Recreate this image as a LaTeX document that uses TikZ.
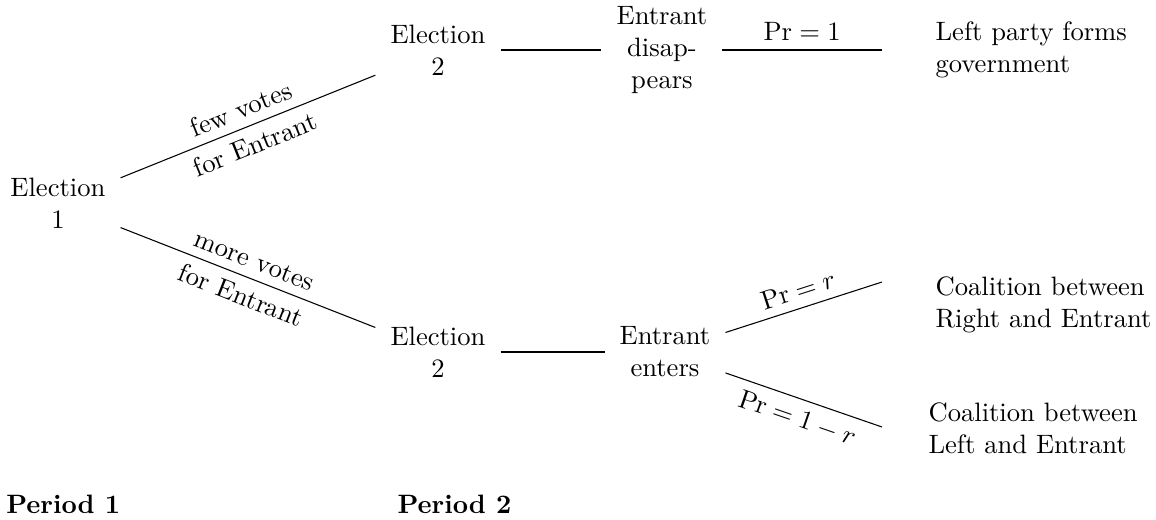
\documentclass[tikz,border=0pt]{standalone}
\usetikzlibrary{positioning}

\begin{document}
\begin{tikzpicture}[stage/.style={align=center, inner xsep=5.5pt},
                    leaf/.style={anchor=west, align=left}]
  %
  \useasboundingbox (0,0) rectangle (15.277,6.859);
  %
  \node[stage] (e1) at (0.766,4.176) {Election\\1};
  \node[stage] (e2a) at (5.788,6.198) {Election\\2};
  \node[stage] (e2b) at (5.788,2.207) {Election\\2};
  \node[stage] (ent1) at (8.748,6.198) {Entrant\\disap-\\pears};
  \node[stage] (ent2) at (8.788,2.207) {Entrant\\enters};
  %
  \coordinate (t1) at (11.656,6.198);
  \coordinate (c1) at (11.656,3.132);
  \coordinate (c2) at (11.656,1.216);
  %
  \node[leaf] (govt) at (12.24,6.2) {Left party forms\\government};
  \node[leaf] (right) at (12.24,2.828) {Coalition between\\Right and Entrant};
  \node[leaf] (left) at (12.147,1.203) {Coalition between\\Left and Entrant};
  %
  \draw (e1) -- node[sloped, above] {few votes} node[sloped, below] {for Entrant} (e2a);
  \draw (e1) -- node[sloped, above] {more votes} node[sloped, below] {for Entrant} (e2b);
  \draw (e2a) -- (ent1);
  \draw (e2b) -- (ent2);
  \draw (ent1) -- node[above] {$\Pr = 1$} (t1);
  \draw (ent2) -- node[sloped, above] {$\Pr = r$} (c1);
  \draw (ent2) -- node[sloped, below] {$\Pr = 1 - r$} (c2);
  %
  \node[anchor=west] (p1) at (-0.04,0.2) {\textbf{Period 1}};
  \node[anchor=west] (p2) at (5.13,0.2) {\textbf{Period 2}};

\end{tikzpicture}
\end{document}
